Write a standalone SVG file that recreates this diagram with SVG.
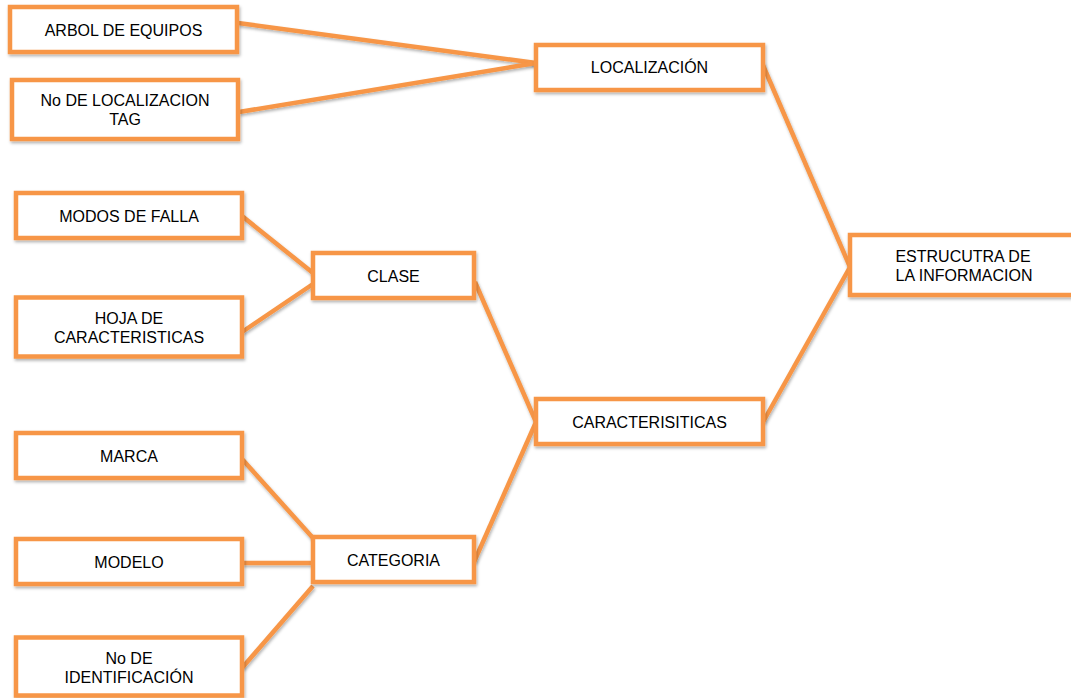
<svg xmlns="http://www.w3.org/2000/svg" width="1071" height="698" viewBox="0 0 1071 698">
  <defs>
    <filter id="sh" filterUnits="userSpaceOnUse" x="0" y="0" width="1100" height="720">
      <feDropShadow dx="1" dy="2" stdDeviation="1.5" flood-color="#000" flood-opacity="0.3"/>
    </filter>
  </defs>
  <style>
    .box { fill: #ffffff; stroke: #F79646; stroke-width: 4.5; filter: url(#sh); }
    .ln { stroke: #F79646; stroke-width: 4.5; fill: none; stroke-linecap: butt; filter: url(#sh); }
    text { font-family: "Liberation Sans", Arial, sans-serif; font-size: 16px; fill: #000000; text-anchor: middle; }
  </style>
  <rect x="0" y="0" width="1071" height="698" fill="#ffffff"/>
  <g id="connectors">
    <line class="ln" x1="238" y1="23" x2="536" y2="63"/>
    <line class="ln" x1="239" y1="112" x2="536" y2="63"/>
    <line class="ln" x1="762" y1="63" x2="850" y2="267"/>
    <line class="ln" x1="763" y1="422" x2="850" y2="267"/>
    <line class="ln" x1="242" y1="216" x2="313" y2="273"/>
    <line class="ln" x1="242" y1="332" x2="313" y2="284"/>
    <line class="ln" x1="475" y1="282" x2="536" y2="422"/>
    <line class="ln" x1="474" y1="562" x2="536" y2="422"/>
    <line class="ln" x1="242" y1="459" x2="313" y2="538"/>
    <line class="ln" x1="242" y1="563" x2="313" y2="563"/>
    <line class="ln" x1="242" y1="668" x2="313" y2="586"/>
  </g>
  <g id="arbol">
    <rect class="box" x="10" y="7" width="227" height="45"/>
    <text x="123.5" y="35.5">ARBOL DE EQUIPOS</text>
  </g>
  <g id="nolocalizacion">
    <rect class="box" x="12" y="80" width="226" height="59"/>
    <text x="125" y="106">No DE LOCALIZACION</text>
    <text x="125" y="125">TAG</text>
  </g>
  <g id="localizacion">
    <rect class="box" x="536" y="45" width="227" height="45"/>
    <text x="649.5" y="73">LOCALIZACIÓN</text>
  </g>
  <g id="estructura">
    <rect class="box" x="850" y="235" width="227" height="60"/>
    <text x="963" y="261.5">ESTRUCUTRA DE</text>
    <text x="964" y="281">LA INFORMACION</text>
  </g>
  <g id="modos">
    <rect class="box" x="16" y="193" width="226" height="45"/>
    <text x="129" y="222">MODOS DE FALLA</text>
  </g>
  <g id="hoja">
    <rect class="box" x="16" y="297.5" width="226" height="59"/>
    <text x="129" y="324">HOJA DE</text>
    <text x="129" y="342.5">CARACTERISTICAS</text>
  </g>
  <g id="clase">
    <rect class="box" x="313" y="253" width="161" height="45"/>
    <text x="393.5" y="281.5">CLASE</text>
  </g>
  <g id="caracteristicas">
    <rect class="box" x="536" y="399" width="227" height="45"/>
    <text x="649.5" y="427.5">CARACTERISITICAS</text>
  </g>
  <g id="marca">
    <rect class="box" x="16" y="433" width="226" height="45"/>
    <text x="129" y="462">MARCA</text>
  </g>
  <g id="modelo">
    <rect class="box" x="16" y="539" width="226" height="45"/>
    <text x="129" y="568">MODELO</text>
  </g>
  <g id="categoria">
    <rect class="box" x="313" y="537" width="161" height="45"/>
    <text x="393.5" y="565.5">CATEGORIA</text>
  </g>
  <g id="noidentificacion">
    <rect class="box" x="16" y="637.5" width="226" height="58"/>
    <text x="129" y="664">No DE</text>
    <text x="129" y="683">IDENTIFICACIÓN</text>
  </g>
</svg>
